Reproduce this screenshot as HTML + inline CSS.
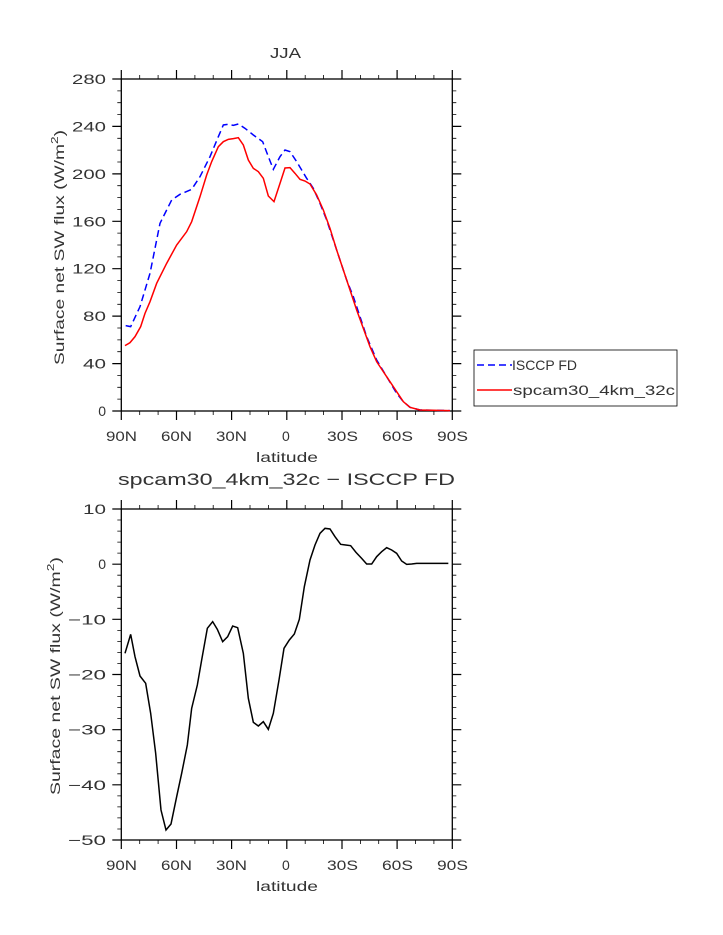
<!DOCTYPE html>
<html><head><meta charset="utf-8"><style>
html,body{margin:0;padding:0;background:#fff;}
svg{display:block;font-family:"Liberation Sans",sans-serif;}
</style></head><body>
<svg width="723" height="935" viewBox="0 0 723 935" xmlns="http://www.w3.org/2000/svg">
<!-- TOP PLOT -->
<text x="270" y="58" font-size="15" textLength="31" lengthAdjust="spacingAndGlyphs" fill="#333">JJA</text>
<rect x="121.3" y="79" width="331" height="332" fill="none" stroke="#000" stroke-width="1.3"/>
<g stroke="#000" stroke-width="1.2">
<path d="M121.3 411v9M176.5 411v9M231.6 411v9M286.8 411v9M342 411v9M397.1 411v9M452.3 411v9"/>
<path d="M121.3 79v-9M176.5 79v-9M231.6 79v-9M286.8 79v-9M342 79v-9M397.1 79v-9M452.3 79v-9"/>
<path d="M121.3 411h-9M121.3 363.6h-9M121.3 316.1h-9M121.3 268.7h-9M121.3 221.3h-9M121.3 173.9h-9M121.3 126.4h-9M121.3 79h-9"/>
<path d="M452.3 411h9M452.3 363.6h9M452.3 316.1h9M452.3 268.7h9M452.3 221.3h9M452.3 173.9h9M452.3 126.4h9M452.3 79h9"/>
</g>
<g stroke="#000" stroke-width="0.8">
<path d="M139.7 411v4M158.1 411v4M194.9 411v4M213.2 411v4M250 411v4M268.4 411v4M305.2 411v4M323.6 411v4M360.4 411v4M378.7 411v4M415.5 411v4M433.9 411v4"/>
<path d="M139.7 79v-4M158.1 79v-4M194.9 79v-4M213.2 79v-4M250 79v-4M268.4 79v-4M305.2 79v-4M323.6 79v-4M360.4 79v-4M378.7 79v-4M415.5 79v-4M433.9 79v-4"/>
<path d="M121.3 399.1h-4M121.3 387.3h-4M121.3 375.4h-4M121.3 351.7h-4M121.3 339.9h-4M121.3 328h-4M121.3 304.3h-4M121.3 292.4h-4M121.3 280.6h-4M121.3 256.9h-4M121.3 245h-4M121.3 233.1h-4M121.3 209.4h-4M121.3 197.6h-4M121.3 185.7h-4M121.3 162h-4M121.3 150.1h-4M121.3 138.3h-4M121.3 114.6h-4M121.3 102.7h-4M121.3 90.9h-4"/>
<path d="M452.3 399.1h4M452.3 387.3h4M452.3 375.4h4M452.3 351.7h4M452.3 339.9h4M452.3 328h4M452.3 304.3h4M452.3 292.4h4M452.3 280.6h4M452.3 256.9h4M452.3 245h4M452.3 233.1h4M452.3 209.4h4M452.3 197.6h4M452.3 185.7h4M452.3 162h4M452.3 150.1h4M452.3 138.3h4M452.3 114.6h4M452.3 102.7h4M452.3 90.9h4"/>
</g>
<g font-size="14" fill="#333" text-anchor="end">
<text x="106" y="416">0</text><text x="106" y="368.6" textLength="23" lengthAdjust="spacingAndGlyphs">40</text><text x="106" y="321.1" textLength="23" lengthAdjust="spacingAndGlyphs">80</text><text x="106" y="273.7" textLength="34" lengthAdjust="spacingAndGlyphs">120</text><text x="106" y="226.3" textLength="34" lengthAdjust="spacingAndGlyphs">160</text><text x="106" y="178.9" textLength="34" lengthAdjust="spacingAndGlyphs">200</text><text x="106" y="131.4" textLength="34" lengthAdjust="spacingAndGlyphs">240</text><text x="106" y="84" textLength="34" lengthAdjust="spacingAndGlyphs">280</text>
</g>
<g font-size="14" fill="#333">
<text x="106" y="441" textLength="31" lengthAdjust="spacingAndGlyphs">90N</text><text x="161" y="441" textLength="31" lengthAdjust="spacingAndGlyphs">60N</text><text x="216" y="441" textLength="31" lengthAdjust="spacingAndGlyphs">30N</text><text x="282" y="441">0</text><text x="327" y="441" textLength="31" lengthAdjust="spacingAndGlyphs">30S</text><text x="382" y="441" textLength="31" lengthAdjust="spacingAndGlyphs">60S</text><text x="437" y="441" textLength="31" lengthAdjust="spacingAndGlyphs">90S</text>
<text x="256" y="462" textLength="62" lengthAdjust="spacingAndGlyphs">latitude</text>
</g>
<text transform="translate(64,365) rotate(-90)" font-size="14" fill="#333" textLength="235" lengthAdjust="spacingAndGlyphs">Surface net SW flux (W/m<tspan font-size="10" dy="-6">2</tspan><tspan dy="6">)</tspan></text>
<g transform="translate(100,60) scale(0.33333)" fill="none">
<polyline vector-effect="non-scaling-stroke" stroke="#0000ff" stroke-width="1.5" stroke-dasharray="7,4" points="77,797 92,800 120,740 150,640 180,490 215,420 240,403 275,388 300,350 330,290 355,230 370,195 385,193 400,196 415,192 435,205 460,225 488,245 505,290 520,328 540,290 555,270 570,275 590,305 620,355 640,385 660,430 680,480 700,540 720,600 740,660 760,710 780,770 800,830 830,900 860,950 890,1000 910,1025 930,1042 960,1050 1050,1052"/>
<polyline vector-effect="non-scaling-stroke" stroke="#ff0000" stroke-width="1.5" points="75,857 90,848 105,830 122,800 135,760 150,725 170,670 200,610 230,555 260,515 275,485 300,410 320,345 335,305 355,260 370,245 385,238 400,236 415,233 430,255 445,300 460,325 475,335 490,355 505,408 522,425 540,370 555,324 570,323 585,340 600,358 615,363 630,372 650,405 670,450 690,505 710,570 730,630 750,690 770,750 790,805 810,860 830,905 860,950 890,995 910,1025 930,1042 960,1050 1050,1052"/>
</g>
<!-- legend -->
<rect x="474" y="350" width="203" height="56" fill="#fff" stroke="#000" stroke-width="0.8"/>
<line x1="477" y1="365" x2="512" y2="365" stroke="#0000ff" stroke-width="1.5" stroke-dasharray="7,4"/>
<line x1="477" y1="390" x2="512" y2="390" stroke="#ff0000" stroke-width="1.5"/>
<text x="512" y="370" font-size="14" fill="#333" textLength="65" lengthAdjust="spacingAndGlyphs">ISCCP FD</text>
<text x="513" y="395" font-size="14" fill="#333" textLength="162" lengthAdjust="spacingAndGlyphs">spcam30_4km_32c</text>

<!-- BOTTOM PLOT -->
<text x="118" y="485" font-size="17" fill="#333" textLength="337" lengthAdjust="spacingAndGlyphs">spcam30_4km_32c − ISCCP FD</text>
<rect x="121.3" y="509" width="331" height="331" fill="none" stroke="#000" stroke-width="1.3"/>
<g stroke="#000" stroke-width="1.2">
<path d="M121.3 840v9M176.5 840v9M231.6 840v9M286.8 840v9M342 840v9M397.1 840v9M452.3 840v9"/>
<path d="M121.3 509v-9M176.5 509v-9M231.6 509v-9M286.8 509v-9M342 509v-9M397.1 509v-9M452.3 509v-9"/>
<path d="M121.3 509h-9M121.3 564.2h-9M121.3 619.3h-9M121.3 674.5h-9M121.3 729.7h-9M121.3 784.8h-9M121.3 840h-9"/>
<path d="M452.3 509h9M452.3 564.2h9M452.3 619.3h9M452.3 674.5h9M452.3 729.7h9M452.3 784.8h9M452.3 840h9"/>
</g>
<g stroke="#000" stroke-width="0.8">
<path d="M139.7 840v4M158.1 840v4M194.9 840v4M213.2 840v4M250 840v4M268.4 840v4M305.2 840v4M323.6 840v4M360.4 840v4M378.7 840v4M415.5 840v4M433.9 840v4"/>
<path d="M139.7 509v-4M158.1 509v-4M194.9 509v-4M213.2 509v-4M250 509v-4M268.4 509v-4M305.2 509v-4M323.6 509v-4M360.4 509v-4M378.7 509v-4M415.5 509v-4M433.9 509v-4"/>
<path d="M121.3 520h-4M121.3 531.1h-4M121.3 542.1h-4M121.3 553.1h-4M121.3 575.2h-4M121.3 586.2h-4M121.3 597.3h-4M121.3 608.3h-4M121.3 630.4h-4M121.3 641.4h-4M121.3 652.4h-4M121.3 663.5h-4M121.3 685.5h-4M121.3 696.6h-4M121.3 707.6h-4M121.3 718.6h-4M121.3 740.7h-4M121.3 751.7h-4M121.3 762.8h-4M121.3 773.8h-4M121.3 795.9h-4M121.3 806.9h-4M121.3 817.9h-4M121.3 829h-4"/>
<path d="M452.3 520h4M452.3 531.1h4M452.3 542.1h4M452.3 553.1h4M452.3 575.2h4M452.3 586.2h4M452.3 597.3h4M452.3 608.3h4M452.3 630.4h4M452.3 641.4h4M452.3 652.4h4M452.3 663.5h4M452.3 685.5h4M452.3 696.6h4M452.3 707.6h4M452.3 718.6h4M452.3 740.7h4M452.3 751.7h4M452.3 762.8h4M452.3 773.8h4M452.3 795.9h4M452.3 806.9h4M452.3 817.9h4M452.3 829h4"/>
</g>
<g font-size="14" fill="#333" text-anchor="end">
<text x="106" y="514" textLength="23" lengthAdjust="spacingAndGlyphs">10</text><text x="106" y="569.2">0</text><text x="106" y="624.3" textLength="38" lengthAdjust="spacingAndGlyphs">−10</text><text x="106" y="679.5" textLength="38" lengthAdjust="spacingAndGlyphs">−20</text><text x="106" y="734.7" textLength="38" lengthAdjust="spacingAndGlyphs">−30</text><text x="106" y="789.8" textLength="38" lengthAdjust="spacingAndGlyphs">−40</text><text x="106" y="845" textLength="38" lengthAdjust="spacingAndGlyphs">−50</text>
</g>
<g font-size="14" fill="#333">
<text x="106" y="870" textLength="31" lengthAdjust="spacingAndGlyphs">90N</text><text x="161" y="870" textLength="31" lengthAdjust="spacingAndGlyphs">60N</text><text x="216" y="870" textLength="31" lengthAdjust="spacingAndGlyphs">30N</text><text x="282" y="870">0</text><text x="327" y="870" textLength="31" lengthAdjust="spacingAndGlyphs">30S</text><text x="382" y="870" textLength="31" lengthAdjust="spacingAndGlyphs">60S</text><text x="437" y="870" textLength="31" lengthAdjust="spacingAndGlyphs">90S</text>
<text x="256" y="891" textLength="62" lengthAdjust="spacingAndGlyphs">latitude</text>
</g>
<text transform="translate(60,795) rotate(-90)" font-size="14" fill="#333" textLength="238" lengthAdjust="spacingAndGlyphs">Surface net SW flux (W/m<tspan font-size="10" dy="-6">2</tspan><tspan dy="6">)</tspan></text>
<g transform="translate(100,490) scale(0.33333)" fill="none">
<polyline vector-effect="non-scaling-stroke" stroke="#000" stroke-width="1.5" points="75,490 92,433 105,500 120,558 137,580 152,670 167,790 183,960 198,1020 213,1002 230,920 245,850 262,765 275,655 292,585 305,510 322,415 338,395 352,418 368,455 383,440 398,408 413,413 430,490 445,625 460,697 475,708 490,695 505,718 520,670 537,570 552,475 568,450 583,432 598,388 613,290 630,210 645,165 660,130 675,115 690,117 705,140 722,163 737,165 752,167 768,187 785,205 800,222 815,222 830,200 845,185 860,173 875,180 890,190 905,213 920,223 935,222 950,220 1045,220"/>
</g>
</svg>
</body></html>
